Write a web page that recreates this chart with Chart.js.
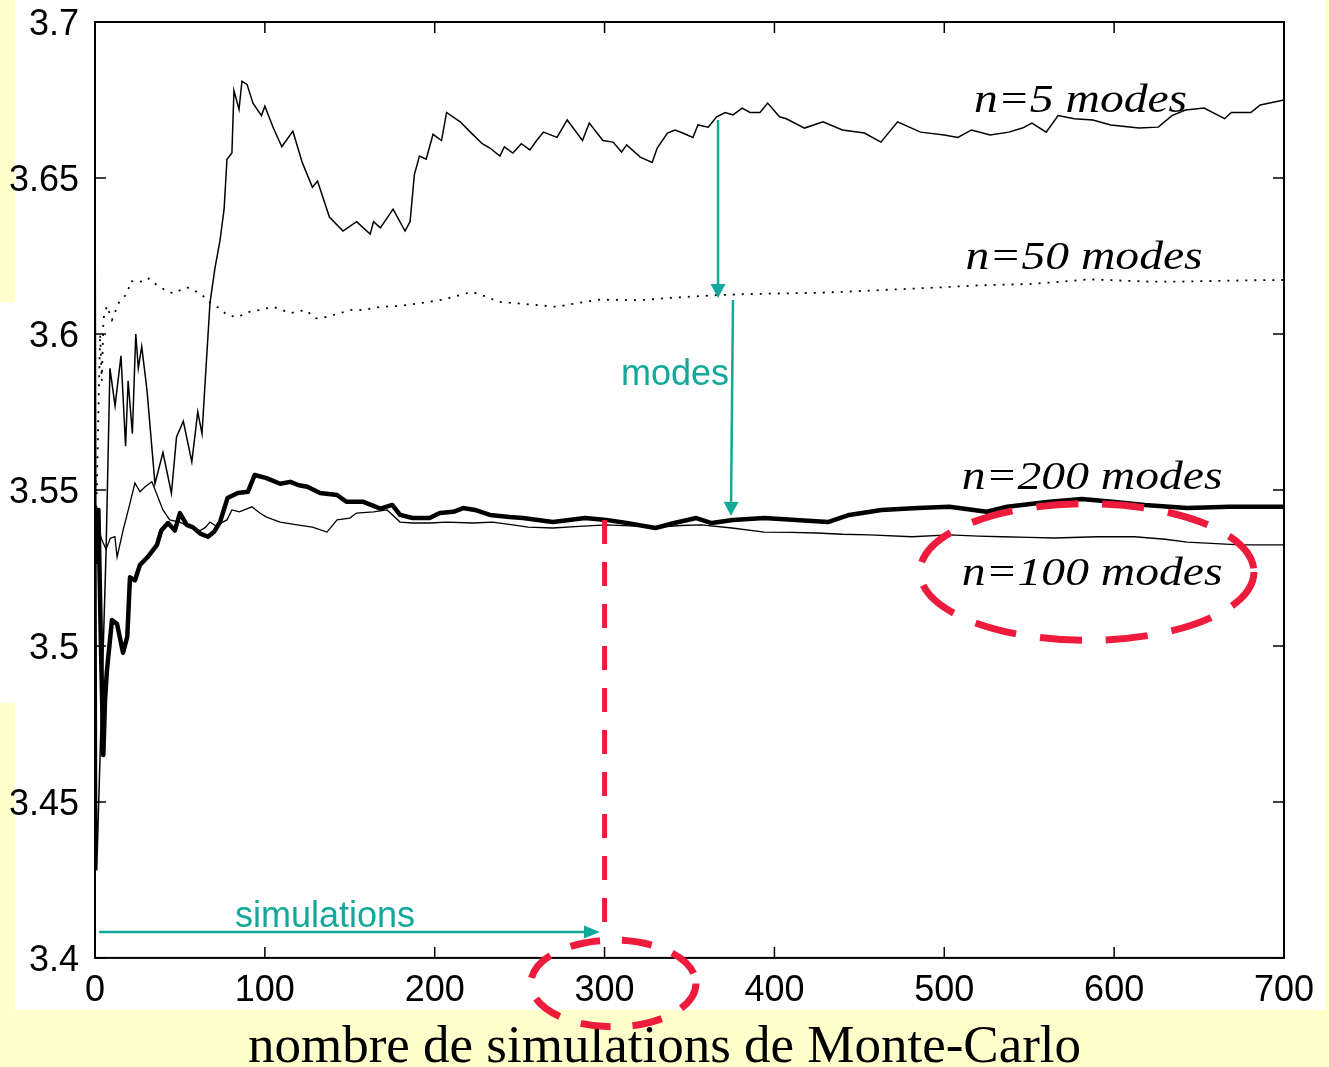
<!DOCTYPE html>
<html>
<head>
<meta charset="utf-8">
<script src="https://cdn.jsdelivr.net/npm/chart.js@4.4.1/dist/chart.umd.min.js"></script>
<style>
  html, body { margin: 0; padding: 0; background: #ffffcc; }
  canvas { display: block; }
</style>
</head>
<body>
<canvas id="mc" width="1329" height="1067"></canvas>
<script>
// axis ticks
const xTicks = [0, 100, 200, 300, 400, 500, 600, 700];
const yTicks = [3.4, 3.45, 3.5, 3.55, 3.6, 3.65, 3.7];
const yTickLabels = ['3.4', '3.45', '3.5', '3.55', '3.6', '3.65', '3.7'];

// n=5 modes
const n5X = [0, 1, 6.5, 8.8, 11.8, 15.3, 18, 19.5, 22, 24, 25.5, 27.5, 30.6, 35.3, 40, 45, 48, 52, 57, 60.5,
  63, 65, 67.7, 70.6, 73.6, 76, 77.7, 80.6, 81.8, 84.8, 86.5, 89.5, 93, 98, 100, 105, 110, 116.5, 122, 128,
  131, 138, 146, 154, 162, 164, 168, 175.5, 182.5, 185.5, 188, 191, 195, 199, 204, 207, 215, 221, 228, 232.5,
  238.4, 241, 246, 251, 256, 260, 264, 272, 278, 287, 291, 299, 305, 310, 313, 321, 328, 331, 337, 341.5,
  346, 352, 355, 361, 366, 371, 375.6, 381, 385.6, 391.5, 396, 403, 407, 417.7, 428.6, 440, 453, 462.7, 472.5, 486,
  500, 508, 516, 527, 538, 546, 551.6, 560, 567, 576.5, 587.5, 598, 614.6, 626, 634, 642, 653, 665, 669, 680.5,
  686, 700];
const n5Y = [3.658, 3.428, 3.530, 3.589, 3.577, 3.593, 3.564, 3.585, 3.568, 3.600, 3.589, 3.596, 3.582, 3.552, 3.562, 3.549, 3.567, 3.572, 3.559, 3.575,
  3.568, 3.586, 3.610, 3.621, 3.630, 3.640, 3.656, 3.658, 3.678, 3.672, 3.681, 3.680, 3.674, 3.670, 3.673, 3.666, 3.660, 3.665, 3.655, 3.647,
  3.649, 3.6375, 3.633, 3.636, 3.632, 3.636, 3.634, 3.640, 3.633, 3.636, 3.651, 3.657, 3.656, 3.664, 3.662, 3.671, 3.668, 3.6647, 3.661, 3.6596,
  3.657, 3.660, 3.658, 3.661, 3.659, 3.662, 3.6647, 3.663, 3.6686, 3.662, 3.6676, 3.662, 3.6615, 3.6583, 3.6606, 3.6567, 3.655, 3.6596, 3.6644, 3.6654,
  3.6644, 3.663, 3.667, 3.6663, 3.6696, 3.671, 3.6702, 3.6724, 3.671, 3.671, 3.674, 3.6696, 3.669, 3.666, 3.668, 3.6654, 3.6644, 3.6615, 3.668, 3.6647,
  3.6638, 3.663, 3.6654, 3.6638, 3.6647, 3.666, 3.6676, 3.6647, 3.670, 3.669, 3.6686, 3.667, 3.666, 3.6663, 3.670, 3.6718, 3.6724, 3.669, 3.671, 3.671,
  3.6734, 3.675];

// n=50 modes
const n50X = [0, 1, 2, 3, 4, 5, 7, 10, 14, 19, 21, 26, 31, 38, 46, 54, 62, 68, 73, 78,
  84, 90, 97, 105, 115, 124, 130, 137, 144, 151, 158, 168, 180, 193, 205, 215, 222, 230, 238, 255,
  272, 285, 297, 320, 337, 352, 368, 385, 405, 425, 440, 460, 480, 500, 516, 535, 550, 570, 585, 600,
  620, 640, 660, 680, 700];
const n50Y = [3.556, 3.548, 3.575, 3.600, 3.585, 3.605, 3.609, 3.6045, 3.610, 3.613, 3.617, 3.6165, 3.618, 3.615, 3.613, 3.615, 3.613, 3.610, 3.6083, 3.606,
  3.6054, 3.607, 3.6077, 3.6087, 3.6067, 3.6077, 3.605, 3.6055, 3.6067, 3.6077, 3.6077, 3.6087, 3.609, 3.610, 3.611, 3.6125, 3.6135, 3.612, 3.6103, 3.6095,
  3.6087, 3.610, 3.611, 3.6108, 3.6115, 3.612, 3.6125, 3.6128, 3.613, 3.6132, 3.6135, 3.614, 3.6145, 3.615, 3.6155, 3.6158, 3.616, 3.6168, 3.6175, 3.6172,
  3.6168, 3.6168, 3.617, 3.6172, 3.6173];

// n=100 modes
const n100X = [0, 2, 4, 6.5, 9, 11.7, 13, 16.5, 20.6, 23.5, 26.5, 29.5, 33.5, 40, 44, 50, 56, 62, 65, 67.7,
  71, 77.7, 80.6, 85, 92.4, 97, 101, 109, 119, 128, 136.6, 142.5, 150, 154, 164, 172, 179.6, 187, 197, 207,
  222.5, 234, 246, 255, 269.6, 285, 301, 315, 332, 345, 357, 375, 394, 410, 425, 440, 456, 481, 503, 520,
  534, 550, 565, 590, 612, 630, 643, 660, 674, 700];
const n100Y = [3.545, 3.538, 3.534, 3.531, 3.5345, 3.535, 3.5285, 3.537, 3.5458, 3.5522, 3.5494, 3.551, 3.5526, 3.5436, 3.5404, 3.5397, 3.538, 3.537, 3.538, 3.5397,
  3.5385, 3.5404, 3.5436, 3.543, 3.5446, 3.5426, 3.5413, 3.5397, 3.5388, 3.5381, 3.5365, 3.5404, 3.541, 3.5426, 3.543, 3.5436, 3.5397, 3.5394, 3.5394, 3.5397,
  3.5394, 3.5397, 3.5388, 3.5381, 3.5378, 3.5383, 3.5388, 3.5385, 3.5381, 3.5386, 3.5388, 3.5378, 3.5365, 3.5364, 3.5362, 3.5358, 3.5356, 3.535, 3.5356, 3.5352,
  3.535, 3.5348, 3.5346, 3.535, 3.535, 3.5342, 3.5333, 3.5328, 3.5324, 3.5324];

// n=200 modes
const n200X = [0, 1, 2, 3.5, 4.9, 5.9, 7, 10, 13, 16.5, 19, 20.6, 23.5, 26.5, 31, 36.5, 39, 43, 47, 50,
  54, 57.7, 62, 66.5, 70, 73.6, 78, 84, 90, 94, 101, 109, 115, 120, 125, 132.5, 142.5, 148, 158, 168,
  175, 179.6, 187, 197, 203, 211, 216.7, 223.7, 232.5, 244, 252, 269.6, 288.5, 301, 313, 330, 341, 354, 363, 375.6,
  394, 412.7, 431.5, 444, 463, 484.5, 503, 525, 537, 562, 581, 599, 618, 643, 668, 700];
const n200Y = [3.545, 3.527, 3.5436, 3.500, 3.465, 3.4827, 3.492, 3.5083, 3.507, 3.4978, 3.503, 3.522, 3.521, 3.526, 3.5285, 3.5324, 3.537, 3.5394, 3.537, 3.5426,
  3.5388, 3.538, 3.536, 3.535, 3.5365, 3.5397, 3.5474, 3.549, 3.5494, 3.5548, 3.5538, 3.552, 3.5526, 3.5515, 3.551, 3.549, 3.5484, 3.5462, 3.5462, 3.544,
  3.5452, 3.542, 3.541, 3.541, 3.5426, 3.543, 3.5442, 3.5436, 3.542, 3.5413, 3.541, 3.5397, 3.541, 3.5404, 3.5394, 3.5378, 3.5394, 3.541, 3.5394, 3.5404,
  3.541, 3.5404, 3.5397, 3.542, 3.5436, 3.5442, 3.5446, 3.543, 3.5446, 3.5462, 3.5471, 3.5462, 3.5452, 3.5442, 3.5446, 3.5446];

const seriesLabels = ['n=5 modes', 'n=50 modes', 'n=200 modes', 'n=100 modes'];

const red = '#ee1b3c';
const teal = '#13a89a';

function pts(xs, ys) {
  return xs.map((x, i) => ({ x: x, y: ys[i] }));
}

// page background: yellow slide with the white figure pasted on it
const slideBackground = {
  id: 'slideBackground',
  beforeDraw(chart) {
    const ctx = chart.ctx;
    ctx.save();
    ctx.fillStyle = '#ffffcc';
    ctx.fillRect(0, 0, chart.width, chart.height);
    ctx.fillStyle = '#ffffff';
    ctx.fillRect(15, 0, 1310, 1010);
    ctx.fillRect(0, 302, 15, 401);
    ctx.restore();
  }
};

// box around the plot with inward ticks on all four sides
const boxTicks = {
  id: 'boxTicks',
  afterDatasetsDraw(chart) {
    const { ctx, chartArea: a, scales: { x, y } } = chart;
    ctx.save();
    ctx.strokeStyle = '#000';
    ctx.lineWidth = 2;
    ctx.strokeRect(a.left, a.top, a.right - a.left, a.bottom - a.top);
    ctx.lineWidth = 1.5;
    ctx.beginPath();
    xTicks.forEach(v => {
      const px = x.getPixelForValue(v);
      ctx.moveTo(px, a.bottom); ctx.lineTo(px, a.bottom - 11);
      ctx.moveTo(px, a.top); ctx.lineTo(px, a.top + 11);
    });
    yTicks.forEach(v => {
      const py = y.getPixelForValue(v);
      ctx.moveTo(a.left, py); ctx.lineTo(a.left + 11, py);
      ctx.moveTo(a.right, py); ctx.lineTo(a.right - 11, py);
    });
    ctx.stroke();
    ctx.restore();
  }
};

// hand drawn notes of the slide: arrows, red markers and curve names
const notes = {
  id: 'notes',
  afterDraw(chart) {
    const { ctx, scales: { x, y } } = chart;
    const X = v => x.getPixelForValue(v);
    const Y = v => y.getPixelForValue(v);

    function arrow(x1, y1, x2, y2, head, half) {
      const ang = Math.atan2(y2 - y1, x2 - x1);
      const c = Math.cos(ang), s = Math.sin(ang);
      ctx.beginPath();
      ctx.moveTo(x1, y1);
      ctx.lineTo(x2 - head * c, y2 - head * s);
      ctx.stroke();
      ctx.beginPath();
      ctx.moveTo(x2, y2);
      ctx.lineTo(x2 - head * c - half * s, y2 - head * s + half * c);
      ctx.lineTo(x2 - head * c + half * s, y2 - head * s - half * c);
      ctx.closePath();
      ctx.fill();
    }

    function ring(cx, cy, hx, hy, dash) {
      const px = X(cx), py = Y(cy);
      ctx.setLineDash(dash);
      ctx.beginPath();
      ctx.ellipse(px, py, Math.abs(X(cx + hx) - px), Math.abs(Y(cy + hy) - py), 0, 0, Math.PI * 2);
      ctx.stroke();
    }

    ctx.save();

    // teal arrows
    ctx.strokeStyle = teal;
    ctx.fillStyle = teal;
    ctx.lineWidth = 2.5;
    arrow(X(2.4), Y(3.4083), X(297.3), Y(3.4083), 16, 6.5);
    arrow(X(366.8), Y(3.6686), X(366.8), Y(3.6115), 14, 7.5);
    arrow(X(375.6), Y(3.6109), X(374.4), Y(3.5417), 14, 7.5);

    ctx.font = '36px "Liberation Sans", Arial, sans-serif';
    ctx.textAlign = 'center';
    ctx.textBaseline = 'alphabetic';
    ctx.fillText('simulations', X(135.4), Y(3.4099));
    ctx.fillText('modes', X(341.5), Y(3.5837));

    // red markers
    ctx.strokeStyle = red;
    ctx.lineWidth = 5;
    ctx.setLineDash([24, 18]);
    ctx.beginPath();
    ctx.moveTo(X(300), Y(3.5404));
    ctx.lineTo(X(300), Y(3.4074));
    ctx.stroke();
    ctx.lineWidth = 7;
    ring(584, 3.5237, 98.3, 0.0219, [42, 24]);
    ring(305.2, 3.3918, 48.6, 0.0139, [30, 22]);
    ctx.setLineDash([]);

    // curve names
    ctx.fillStyle = '#000';
    ctx.font = 'italic 40px "Liberation Serif", "Times New Roman", serif';
    const names = [
      [seriesLabels[0], 580.2, 3.6711],
      [seriesLabels[1], 582.3, 3.6207],
      [seriesLabels[2], 587, 3.5503],
      [seriesLabels[3], 587, 3.5196]
    ];
    names.forEach(([t, vx, vy]) => {
      ctx.save();
      ctx.translate(X(vx), Y(vy));
      ctx.scale(1.19, 1);
      ctx.fillText(t, 0, 0);
      ctx.restore();
    });

    ctx.restore();
  }
};

const tickFont = { family: '"Liberation Sans", Arial, sans-serif', size: 36 };

new Chart(document.getElementById('mc'), {
  type: 'line',
  data: {
    datasets: [
      { label: seriesLabels[1], data: pts(n50X, n50Y), borderColor: '#000', borderWidth: 1.8, borderDash: [2, 7] },
      { label: seriesLabels[0], data: pts(n5X, n5Y), borderColor: '#000', borderWidth: 1.5 },
      { label: seriesLabels[3], data: pts(n100X, n100Y), borderColor: '#000', borderWidth: 1.3 },
      { label: seriesLabels[2], data: pts(n200X, n200Y), borderColor: '#000', borderWidth: 4.5, borderJoinStyle: 'round' }
    ]
  },
  options: {
    responsive: false,
    animation: false,
    events: [],
    elements: { point: { radius: 0 }, line: { tension: 0 } },
    layout: { padding: { top: 22, right: 0, left: 0, bottom: 0 } },
    plugins: {
      legend: { display: false },
      tooltip: { enabled: false },
      title: {
        display: true,
        position: 'bottom',
        text: 'nombre de simulations de Monte-Carlo',
        color: '#000',
        font: { family: '"Liberation Serif", "Times New Roman", serif', size: 53, weight: 'normal', lineHeight: 0.7 },
        padding: 0
      }
    },
    scales: {
      x: {
        type: 'linear',
        min: 0,
        max: 700,
        afterBuildTicks: s => { s.ticks = xTicks.map(v => ({ value: v })); },
        afterFit: s => { s.height = 72; s.paddingLeft = 0; s.paddingRight = 0; },
        grid: { display: false },
        border: { display: false },
        ticks: { color: '#000', font: tickFont, padding: 4, maxRotation: 0, autoSkip: false }
      },
      y: {
        type: 'linear',
        min: 3.4,
        max: 3.7,
        afterBuildTicks: s => { s.ticks = yTicks.map(v => ({ value: v })); },
        afterFit: s => { s.width = 95; s.paddingTop = 0; s.paddingBottom = 0; },
        grid: { display: false },
        border: { display: false },
        ticks: { color: '#000', font: tickFont, padding: 8, labelOffset: 3, callback: (v, i) => yTickLabels[i] }
      },
      yRight: {
        type: 'linear',
        position: 'right',
        min: 3.4,
        max: 3.7,
        afterFit: s => { s.width = 45; s.paddingTop = 0; s.paddingBottom = 0; },
        grid: { display: false },
        border: { display: false },
        ticks: { display: false }
      }
    }
  },
  plugins: [slideBackground, boxTicks, notes]
});
</script>
</body>
</html>
